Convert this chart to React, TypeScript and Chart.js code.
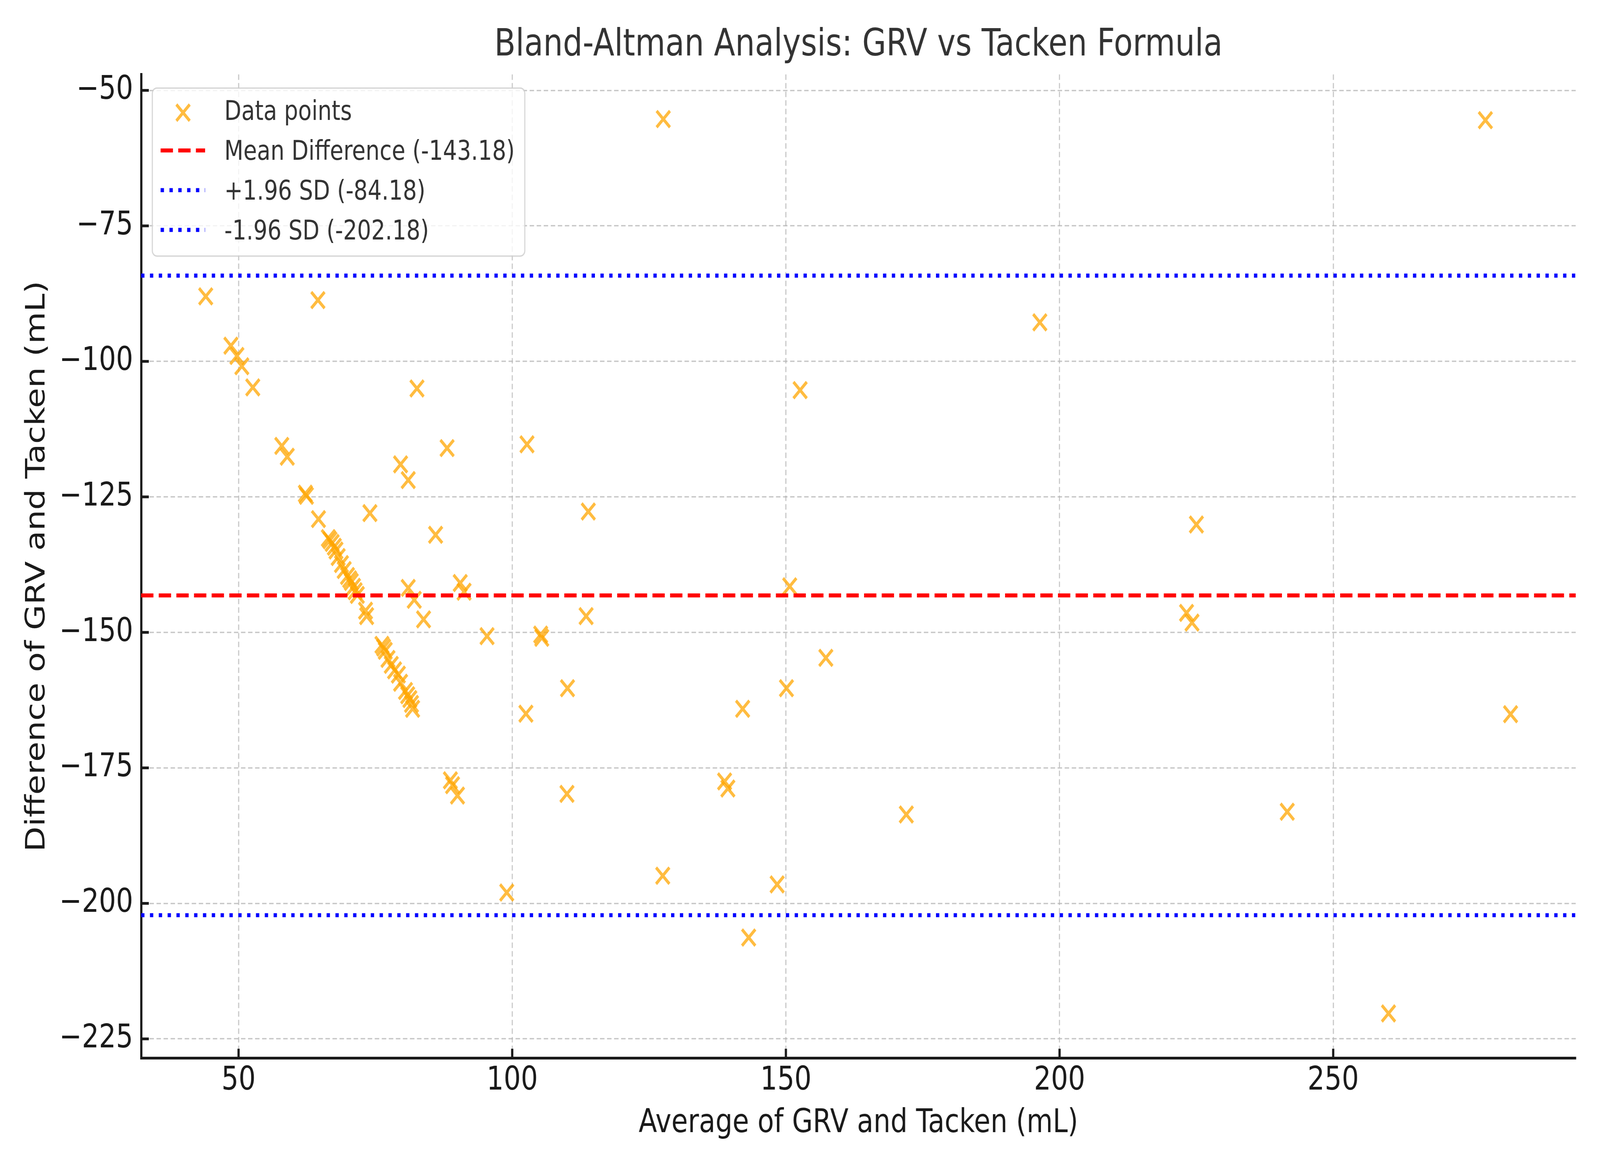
import { useEffect, useRef } from "react";
import Chart from "chart.js/auto";

// Bland-Altman: average (x) vs difference (y)
const avgValues = [
  44.0, 48.6, 49.7, 50.6, 52.6, 57.9, 58.9, 62.2, 62.4, 64.5,
  64.6, 66.4, 66.7, 67.1, 67.5, 67.8, 68.2, 68.8, 69.3, 69.9,
  70.3, 70.6, 71.0, 71.3, 71.7, 73.2, 73.4, 74.0, 76.2, 76.5,
  76.8, 77.3, 77.9, 78.5, 79.2, 79.6, 80.5, 80.9, 81.3, 81.6,
  81.8, 79.6, 81.0, 81.0, 82.1, 82.6, 83.8, 86.0, 88.1, 88.7,
  89.1, 90.0, 90.5, 91.2, 95.4, 99.0, 102.7, 102.5, 105.2, 105.4,
  110.1, 110.0, 113.5, 113.9, 127.6, 127.5, 138.8, 139.4, 142.1, 143.2,
  148.4, 150.1, 150.7, 152.6, 157.3, 172.0, 196.4, 223.2, 224.2, 225.0,
  241.6, 260.1, 277.8, 282.4
];
const diffValues = [
  -88.0, -97.1, -99.0, -100.9, -104.8, -115.6, -117.6, -124.4, -124.8, -88.7,
  -129.1, -132.6, -133.0, -133.5, -134.2, -134.9, -136.1, -137.4, -138.5, -139.6,
  -140.2, -140.7, -141.6, -142.4, -143.1, -146.0, -147.0, -128.0, -152.3, -152.8,
  -153.4, -154.9, -156.0, -157.0, -157.8, -159.3, -160.8, -161.6, -162.3, -163.2,
  -164.1, -119.0, -121.9, -141.8, -144.0, -105.0, -147.6, -132.0, -116.0, -177.3,
  -178.2, -180.1, -140.9, -142.5, -150.7, -198.0, -115.3, -165.0, -150.4, -151.0,
  -160.3, -179.8, -147.0, -127.7, -55.3, -194.9, -177.5, -178.8, -164.1, -206.3,
  -196.5, -160.3, -141.5, -105.3, -154.7, -183.6, -92.8, -146.4, -148.2, -130.1,
  -183.1, -220.3, -55.5, -165.1
];

const MEAN_DIFF = -143.18;
const UPPER_LOA = -84.18;
const LOWER_LOA = -202.18;

const xRange = [32.2, 294.3];
const yRange = [-228.55, -47.05];
const xTicks = [50, 100, 150, 200, 250];
const yTicks = [-225, -200, -175, -150, -125, -100, -75, -50];

const FONT = "DejaVu Sans";
const TICK_COLOR = "#1a1a1a";

const fmtTick = (v: number) => (v < 0 ? "\u2212" + Math.abs(v) : String(v));

const hline = (label: string, y: number, color: string, dash: number[]) => ({
  type: "line" as const,
  label,
  data: [
    { x: xRange[0], y },
    { x: xRange[1], y }
  ],
  borderColor: color,
  borderWidth: 10.4,
  borderDash: dash,
  pointRadius: 0,
  fill: false,
  order: 0
});

// matplotlib style inward tick marks
const inwardTicks = {
  id: "inwardTicks",
  afterDatasetsDraw(chart: any) {
    const { ctx, chartArea, scales } = chart;
    ctx.save();
    ctx.strokeStyle = TICK_COLOR;
    ctx.lineWidth = 7;
    ctx.setLineDash([]);
    scales.x.ticks.forEach((t: any) => {
      const px = scales.x.getPixelForValue(t.value);
      ctx.beginPath();
      ctx.moveTo(px, chartArea.bottom);
      ctx.lineTo(px, chartArea.bottom - 24);
      ctx.stroke();
    });
    scales.y.ticks.forEach((t: any) => {
      const py = scales.y.getPixelForValue(t.value);
      ctx.beginPath();
      ctx.moveTo(chartArea.left, py);
      ctx.lineTo(chartArea.left + 24, py);
      ctx.stroke();
    });
    ctx.restore();
  }
};

// framed legend in the upper left of the plot
const boxLegend = {
  id: "boxLegend",
  afterDraw(chart: any) {
    const { ctx, chartArea } = chart;
    const left = chartArea.left + 35;
    const top = chartArea.top + 35;
    ctx.save();
    ctx.beginPath();
    ctx.roundRect(left, top, 1164, 430, 14);
    ctx.fillStyle = "rgba(255,255,255,0.8)";
    ctx.fill();
    ctx.lineWidth = 3.5;
    ctx.strokeStyle = "rgba(204,204,204,0.8)";
    ctx.stroke();

    ctx.font = `69px "${FONT}"`;
    ctx.textAlign = "left";
    ctx.textBaseline = "alphabetic";
    chart.data.datasets.forEach((ds: any, i: number) => {
      const cy = top + 58 + i * 101.7;
      if (ds.type === "line") {
        ctx.beginPath();
        ctx.setLineDash(ds.borderDash);
        ctx.lineWidth = ds.borderWidth;
        ctx.strokeStyle = ds.borderColor;
        ctx.moveTo(left + 26, cy);
        ctx.lineTo(left + 165, cy);
        ctx.stroke();
        ctx.setLineDash([]);
      } else {
        const h = ds.pointRadius * Math.SQRT1_2;
        const cx = left + 96;
        const my = cy + 5;
        ctx.beginPath();
        ctx.lineWidth = ds.pointBorderWidth;
        ctx.strokeStyle = ds.pointBorderColor;
        ctx.moveTo(cx - h, my - h);
        ctx.lineTo(cx + h, my + h);
        ctx.moveTo(cx - h, my + h);
        ctx.lineTo(cx + h, my - h);
        ctx.stroke();
      }
      ctx.fillStyle = "#333333";
      ctx.fillText(ds.label, left + 225, cy + 24);
    });
    ctx.restore();
  }
};

export default function App() {
  const canvasRef = useRef<HTMLCanvasElement | null>(null);

  useEffect(() => {
    if (!canvasRef.current) {
      return;
    }
    Chart.defaults.font.family = FONT;

    const chart = new Chart(canvasRef.current, {
      type: "scatter",
      data: {
        datasets: [
          {
            type: "scatter",
            label: "Data points",
            data: avgValues.map((x, i) => ({ x, y: diffValues[i] })),
            pointStyle: "crossRot",
            pointRadius: 29.5,
            pointBorderWidth: 8.5,
            pointBorderColor: "rgba(255,165,0,0.75)",
            pointBackgroundColor: "rgba(255,165,0,0.75)",
            order: 1
          },
          hline(`Mean Difference (${MEAN_DIFF.toFixed(2)})`, MEAN_DIFF, "#ff0000", [38.5, 16.6]),
          hline(`+1.96 SD (${UPPER_LOA.toFixed(2)})`, UPPER_LOA, "#0000ff", [10.4, 17.2]),
          hline(`-1.96 SD (${LOWER_LOA.toFixed(2)})`, LOWER_LOA, "#0000ff", [10.4, 17.2])
        ] as any
      },
      options: {
        animation: false,
        responsive: false,
        devicePixelRatio: 1,
        layout: { padding: { left: 0, right: 76, top: 0, bottom: 0 } },
        plugins: {
          legend: { display: false },
          tooltip: { enabled: false },
          title: {
            display: true,
            text: "Bland-Altman Analysis: GRV vs Tacken Formula",
            color: "#333333",
            font: { size: 97, weight: "normal" },
            padding: { top: 59, bottom: 15 },
            fullSize: false
          }
        },
        scales: {
          x: {
            type: "linear",
            min: xRange[0],
            max: xRange[1],
            afterBuildTicks: (s: any) => {
              s.ticks = xTicks.map((value) => ({ value }));
            },
            afterFit: (s: any) => {
              s.height = 291.5;
            },
            grid: { color: "rgba(176,176,176,0.7)", lineWidth: 3.5, drawTicks: false },
            border: { display: true, color: TICK_COLOR, width: 7, dash: [14, 8] },
            ticks: {
              color: TICK_COLOR,
              font: { size: 84 },
              padding: 8,
              maxRotation: 0,
              autoSkip: false,
              callback: (v: any) => fmtTick(Number(v))
            },
            title: {
              display: true,
              text: "Average of GRV and Tacken (mL)",
              color: TICK_COLOR,
              font: { size: 84 },
              padding: { top: 0, bottom: 73 }
            }
          },
          y: {
            type: "linear",
            min: yRange[0],
            max: yRange[1],
            afterBuildTicks: (s: any) => {
              s.ticks = yTicks.map((value) => ({ value }));
            },
            afterFit: (s: any) => {
              s.width = 441;
            },
            grid: { color: "rgba(176,176,176,0.7)", lineWidth: 3.5, drawTicks: false },
            border: { display: true, color: TICK_COLOR, width: 7, dash: [14, 8] },
            ticks: {
              color: TICK_COLOR,
              font: { size: 84 },
              padding: 25,
              autoSkip: false,
              callback: (v: any) => fmtTick(Number(v))
            },
            title: {
              display: true,
              text: "Difference of GRV and Tacken (mL)",
              color: TICK_COLOR,
              font: { size: 84 },
              padding: { top: 67, bottom: 0 }
            }
          }
        }
      },
      plugins: [inwardTicks, boxLegend]
    });

    return () => {
      chart.destroy();
    };
  }, []);

  // the drawing buffer keeps the 5000x3000 figure; it is shown across the whole window
  return (
    <div style={{ position: "absolute", left: 0, top: 0, width: "100vw", height: "100vh", overflow: "hidden", background: "#ffffff" }}>
      <canvas
        ref={canvasRef}
        width={5000}
        height={3000}
        style={{ display: "block", width: "100vw", height: "100vh" }}
      ></canvas>
    </div>
  );
}
